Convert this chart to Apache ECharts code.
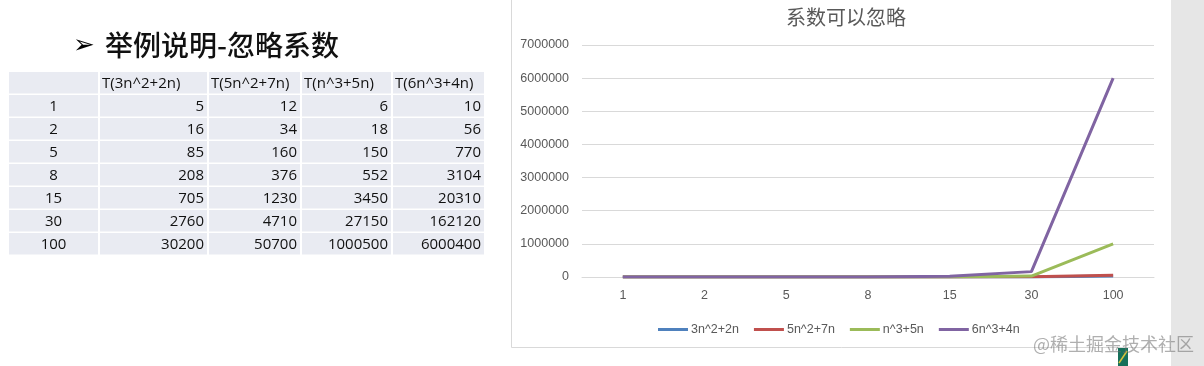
<!DOCTYPE html>
<html>
<head>
<meta charset="utf-8">
<script src="https://cdn.jsdelivr.net/npm/echarts@6/dist/echarts.min.js"></script>
<style>
html,body{margin:0;padding:0;background:#fff;}
#c{width:1204px;height:366px;}
</style>
</head>
<body>
<div id="c"></div>
<script>
// ---- data ----
const nValues = ['1', '2', '5', '8', '15', '30', '100'];
const seriesNames = ['3n^2+2n', '5n^2+7n', 'n^3+5n', '6n^3+4n'];
const tableHeaders = ['T(3n^2+2n)', 'T(5n^2+7n)', 'T(n^3+5n)', 'T(6n^3+4n)'];
const s1 = [5, 16, 85, 208, 705, 2760, 30200];
const s2 = [12, 34, 160, 376, 1230, 4710, 50700];
const s3 = [6, 18, 150, 552, 3450, 27150, 1000500];
const s4 = [10, 56, 770, 3104, 20310, 162120, 6000400];
const chartTitle = '系数可以忽略';
const pageTitle = '举例说明-忽略系数';
const watermark = '@稀土掘金技术社区';

const allSeries = [s1, s2, s3, s4];
const colors = ['#4f81bd', '#c0504d', '#9bbb59', '#8064a2'];

// ---- table graphics ----
const colX = [9, 100, 209, 302, 393];
const colW = [89, 107, 91, 89, 91];
const rowY0 = 72, rowPitch = 23, rowH = 21.5;
const g = [];
const cellFill = '#e9ebf2';
const tFont = '15px "Open Sans", Lato, sans-serif';
for (let r = 0; r < 8; r++) {
  for (let c = 0; c < 5; c++) {
    g.push({type: 'rect', shape: {x: colX[c], y: rowY0 + r * rowPitch, width: colW[c], height: rowH},
      style: {fill: cellFill}, silent: true});
    let txt = '', align = 'right', x = colX[c] + colW[c] - 3;
    if (r === 0) {
      if (c > 0) { txt = tableHeaders[c - 1]; align = 'left'; x = colX[c] + 2; }
    } else {
      if (c === 0) { txt = nValues[r - 1]; align = 'center'; x = colX[c] + colW[c] / 2; }
      else { txt = String(allSeries[c - 1][r - 1]); }
    }
    if (txt) {
      g.push({type: 'text', x: x, y: rowY0 + r * rowPitch + rowH / 2 + 0.5,
        style: {text: txt, font: tFont, fill: '#111', align: align, verticalAlign: 'middle'}, silent: true});
    }
  }
}
// left title
g.push({type: 'text', x: 73, y: 46, style: {text: '➢', font: '26px "DejaVu Sans"', fill: '#000', verticalAlign: 'middle'}});
g.push({type: 'text', x: 105, y: 45, style: {text: pageTitle, font: '500 28px "Noto Sans CJK SC"', fill: '#111', verticalAlign: 'middle'}});
// chart frame
g.push({type: 'rect', shape: {x: 1171, y: 0, width: 33, height: 366}, style: {fill: '#e6e6e6'}, silent: true});
g.push({type: 'line', shape: {x1: 511.5, y1: 0, x2: 511.5, y2: 347.5}, style: {stroke: '#d9d9d9', lineWidth: 1}});
g.push({type: 'line', shape: {x1: 511.5, y1: 347.5, x2: 1171, y2: 347.5}, style: {stroke: '#d9d9d9', lineWidth: 1}});
// small decoration
g.push({type: 'rect', shape: {x: 1118, y: 348, width: 10, height: 18}, style: {fill: '#16705a'}});
g.push({type: 'line', shape: {x1: 1119, y1: 363, x2: 1127, y2: 351}, style: {stroke: '#d8c23a', lineWidth: 1.5}});
// watermark
g.push({type: 'text', x: 1033, y: 344, z: 100, style: {text: watermark, font: '18px "Noto Sans CJK SC"', fill: 'rgba(110,110,110,0.55)', verticalAlign: 'middle'}});

const chart = echarts.init(document.getElementById('c'), null, {renderer: 'canvas'});
chart.setOption({
  animation: false,
  backgroundColor: '#fff',
  color: colors,
  title: {
    text: chartTitle, left: 841, top: 2, textAlign: 'center',
    textStyle: {fontSize: 20, fontWeight: 'normal', color: '#595959', fontFamily: '"Noto Sans CJK SC"'}
  },
  legend: {
    left: 653, top: 318, itemWidth: 30, itemHeight: 14, itemGap: 15,
    icon: 'path://M0,5.5 L30,5.5 L30,8.5 L0,8.5 Z',
    data: seriesNames,
    textStyle: {fontSize: 12.5, color: '#595959', fontFamily: '"Liberation Sans", sans-serif', padding: [0, 0, 0, -2]}
  },
  grid: {left: 582, right: 50, top: 45, bottom: 89, containLabel: false},
  xAxis: {
    type: 'category', data: nValues, boundaryGap: true,
    axisLine: {show: true, lineStyle: {color: '#d9d9d9'}},
    axisTick: {show: false},
    axisLabel: {color: '#595959', fontSize: 12.5, margin: 12, fontFamily: '"Liberation Sans", sans-serif'}
  },
  yAxis: {
    type: 'value', min: 0, max: 7000000, interval: 1000000,
    axisLine: {show: false}, axisTick: {show: false},
    splitLine: {lineStyle: {color: '#d9d9d9'}},
    axisLabel: {color: '#595959', fontSize: 12.5, margin: 13, fontFamily: '"Liberation Sans", sans-serif',
      formatter: function (v) { return String(v); }}
  },
  series: seriesNames.map((name, i) => ({
    name: name, type: 'line', data: allSeries[i], symbol: 'none',
    lineStyle: {width: 3, color: colors[i]}, itemStyle: {color: colors[i]}
  })),
  graphic: g
});
</script>
</body>
</html>
